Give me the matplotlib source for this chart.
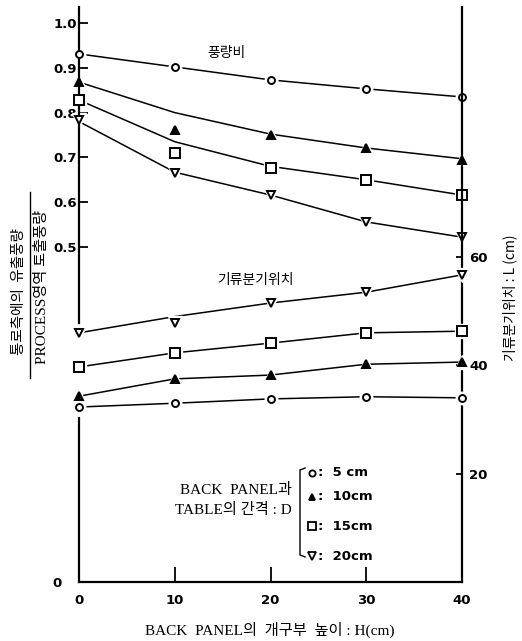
#!/usr/bin/env python3

#==============================================================================
# flow ratio and split position vs. back panel opening height
#==============================================================================

import matplotlib
matplotlib.use('Agg')
import matplotlib.pyplot as plt
from matplotlib.lines import Line2D

#==============================================================================
# data
#==============================================================================

H = [0, 10, 20, 30, 40]
Gaps = ['5 cm', '10cm', '15cm', '20cm']

# flow ratio, measured points
Ratio5  = [0.931, 0.902, 0.873, 0.853, 0.835]
Ratio10 = [0.868, 0.761, 0.750, 0.721, 0.694]
Ratio15 = [0.828, 0.710, 0.676, 0.650, 0.616]
Ratio20 = [0.783, 0.665, 0.616, 0.556, 0.522]

# flow ratio, drawn curves
RatioFit5  = [0.931, 0.902, 0.873, 0.853, 0.835]
RatioFit10 = [0.868, 0.800, 0.752, 0.721, 0.697]
RatioFit15 = [0.828, 0.735, 0.680, 0.650, 0.616]
RatioFit20 = [0.780, 0.667, 0.616, 0.556, 0.522]

# split position L (cm), measured points
Loc5  = [32.3, 33.0, 33.8, 34.2, 34.0]
Loc10 = [34.3, 37.5, 38.2, 40.2, 40.6]
Loc15 = [39.7, 42.3, 44.1, 46.0, 46.3]
Loc20 = [46.0, 47.8, 51.5, 53.5, 56.7]

# split position L (cm), drawn curves
LocFit5  = [32.3, 33.0, 33.8, 34.2, 34.0]
LocFit10 = [34.3, 37.5, 38.2, 40.2, 40.6]
LocFit15 = [39.7, 42.3, 44.1, 46.0, 46.3]
LocFit20 = [46.0, 49.0, 51.5, 53.5, 56.7]

RatioTicks = [0.5, 0.6, 0.7, 0.8, 0.9, 1.0]
LocTicks   = [20, 40, 60]

#==============================================================================
# styles
#==============================================================================

plt.rcParams['font.family'] = ['DejaVu Sans', 'Noto Sans CJK KR']
Serif = ['Liberation Serif', 'Noto Sans CJK KR']
Korean = ['Noto Sans CJK KR', 'DejaVu Sans']

Markers = [
  dict(marker='o', ms=5.0, mfc='white'),
  dict(marker='^', ms=5.5, mfc='black'),
  dict(marker='s', ms=6.5, mfc='white'),
  dict(marker='v', ms=6.0, mfc='white'),
]

W, Hpx = 522, 641

def FigXY(px, py):
  return px / W, 1 - py / Hpx

#==============================================================================
# figure and axes
#==============================================================================

fig = plt.figure(figsize=(W / 100, Hpx / 100), dpi=100)
Left, Right, Bottom, Top = 79, 462, 582, 7
ax = fig.add_axes([Left / W, 1 - Bottom / Hpx, (Right - Left) / W, (Bottom - Top) / Hpx])
ax2 = ax.twinx()

ax.set_xlim(0, 40)
RatioLow, RatioHigh = 1.0 - (Bottom - 23) / 448, 1.0 + (23 - Top) / 448
ax.set_ylim(RatioLow, RatioHigh)
ax2.set_ylim(0, (Bottom - Top) / 5.417)

for a in (ax, ax2):
  for s in a.spines.values():
    s.set_visible(False)

ax2.spines['right'].set_visible(True)
ax2.spines['right'].set_linewidth(1.6)
ax.spines['bottom'].set_visible(True)
ax.spines['bottom'].set_linewidth(1.6)

# left spine is broken where the L curves cross it
ax.axvline(0, ymin=0, ymax=(Bottom - 418) / (Bottom - Top), color='black', lw=1.6, clip_on=False, zorder=5)
ax.axvline(0, ymin=(Bottom - 323) / (Bottom - Top), ymax=1, color='black', lw=1.6, clip_on=False, zorder=5)

#==============================================================================
# curves
#==============================================================================

def Draw(axis, Fit, Meas, Style):
  axis.plot(H, Fit, color='black', lw=1.1, zorder=3, clip_on=False)
  axis.plot(H, Meas, ls='none', marker=Style['marker'], ms=Style['ms'] + 4,
            mfc='white', mec='white', zorder=4, clip_on=False)
  axis.plot(H, Meas, ls='none', marker=Style['marker'], ms=Style['ms'],
            mfc=Style['mfc'], mec='black', mew=1.4, zorder=6, clip_on=False)

for Fit, Meas, Style in zip([RatioFit5, RatioFit10, RatioFit15, RatioFit20],
                            [Ratio5, Ratio10, Ratio15, Ratio20], Markers):
  Draw(ax, Fit, Meas, Style)

for Fit, Meas, Style in zip([LocFit5, LocFit10, LocFit15, LocFit20],
                            [Loc5, Loc10, Loc15, Loc20], Markers):
  Draw(ax2, Fit, Meas, Style)

#==============================================================================
# ticks
#==============================================================================

TickFont = dict(fontsize=9.5, fontweight='bold')

ax.set_xticks(H)
ax.set_xticklabels([str(h) for h in H], **TickFont)
ax.tick_params(axis='x', direction='in', length=11, width=1.3, pad=9)

ax.set_yticks([RatioLow] + RatioTicks)
ax.set_yticklabels(['0'] + ['%.1f' % v for v in RatioTicks], **TickFont)
ax.tick_params(axis='y', direction='in', length=6.5, width=1.3, pad=1.5)
ax.get_yticklabels()[0].set_x(-0.04)

ax2.set_yticks(LocTicks)
ax2.set_yticklabels([str(v) for v in LocTicks], **TickFont)
ax2.tick_params(axis='y', direction='in', length=4, width=1.3, pad=5)

#==============================================================================
# labels
#==============================================================================

fig.text(*FigXY(226, 53), '풍량비', family=Korean, fontsize=10, ha='center', va='center')
fig.text(*FigXY(255, 280), '기류분기위치', family=Korean, fontsize=10, ha='center', va='center')

# left label written as a fraction
fig.text(*FigXY(19, 292), '통로측에의  유출풍량', family=Korean, fontsize=10.5,
         rotation=90, ha='center', va='center')
fig.text(*FigXY(42, 287), 'PROCESS영역 토출풍량', family=Serif, fontsize=11,
         rotation=90, ha='center', va='center')
x0, y0 = FigXY(30, 192)
x1, y1 = FigXY(30, 378)
fig.add_artist(Line2D([x0, x1], [y0, y1], color='black', lw=1.0))

fig.text(*FigXY(510, 298), '기류분기위치 : L (cm)', family=Korean, fontsize=10,
         rotation=90, ha='center', va='center')

fig.text(*FigXY(270, 630), 'BACK  PANEL의  개구부  높이 : H(cm)', family=Serif,
         fontsize=11, ha='center', va='center')

#==============================================================================
# legend
#==============================================================================

fig.text(*FigXY(292, 490), 'BACK  PANEL과', family=Serif, fontsize=11, ha='right', va='center')
fig.text(*FigXY(292, 510), 'TABLE의 간격 : D', family=Serif, fontsize=11, ha='right', va='center')

bx, by0 = FigXY(300, 470)
bx, by1 = FigXY(300, 555)
hx, _ = FigXY(305, 0)
fig.add_artist(Line2D([hx, bx, bx, hx], [by0 + 0.003, by0, by1, by1 - 0.003], color='black', lw=1.0))

for Row, (Name, Style) in enumerate(zip(Gaps, Markers)):
  py = [473, 497, 526, 556][Row]
  mx, my = FigXY(312, py)
  fig.add_artist(Line2D([mx], [my], ls='none', marker=Style['marker'], ms=Style['ms'] - 0.5,
                        mfc=Style['mfc'], mec='black', mew=1.3))
  fig.text(*FigXY(318, py), ':  ' + Name, fontsize=9.5, fontweight='bold', ha='left', va='center')

fig.savefig('out.png', dpi=100)
